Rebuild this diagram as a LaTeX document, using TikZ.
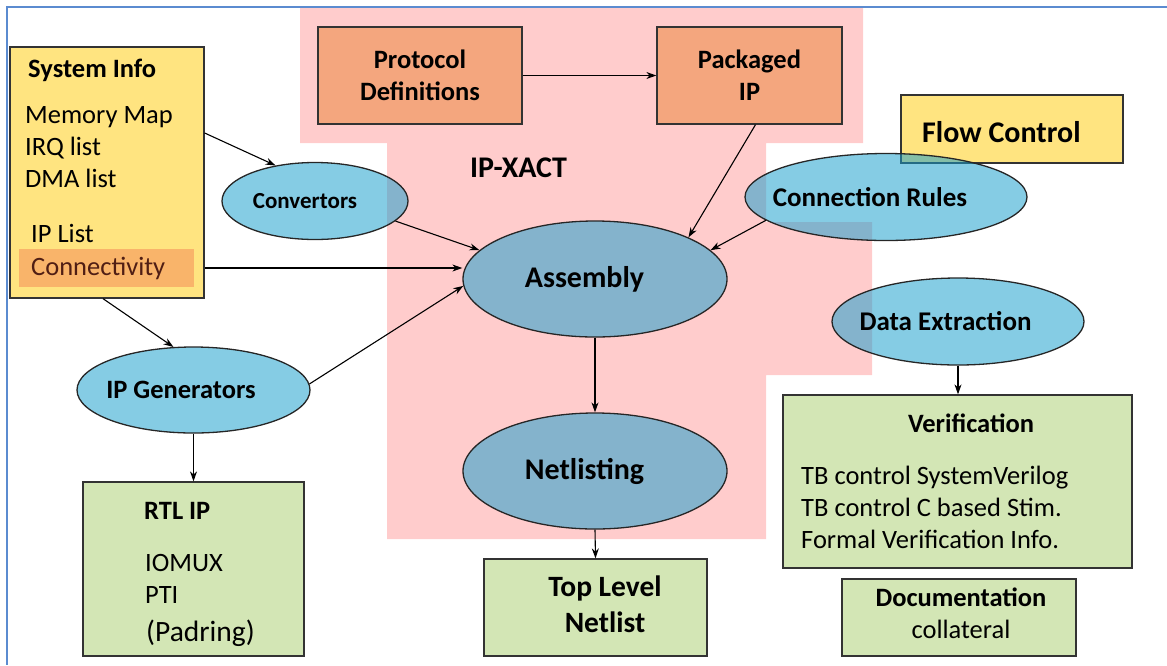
\documentclass[tikz,border=0pt]{standalone}
\usepackage{fontspec}
\setmainfont{Carlito}
\usetikzlibrary{arrows.meta,shapes.geometric,calc}
\definecolor{pinkbg}{RGB}{255,204,204}
\definecolor{ybox}{RGB}{255,228,128}
\definecolor{salmon}{RGB}{244,166,126}
\definecolor{gbox}{RGB}{211,230,181}
\definecolor{hilite}{RGB}{249,180,106}
\definecolor{ellblue}{RGB}{24,158,204}
\definecolor{frameblue}{RGB}{91,139,208}
\definecolor{conntext}{RGB}{80,30,20}
\newcommand{\ovtext}[2]{\makebox[0pt]{#2\hspace{#1}}}
\begin{document}
\begin{tikzpicture}[x=1pt,y=-1pt,
  box/.style={draw=black!80,line width=1.3pt,rectangle,inner sep=0pt},
  oval/.style={ellipse,draw=black!85,line width=1.3pt,fill=ellblue,fill opacity=0.53,text opacity=1,inner sep=0pt},
  arr/.style={-{Stealth[length=10pt,width=7pt]},line width=1.1pt},
  tn/.style={inner sep=0pt,font=\fontsize{26.5}{32}\selectfont},
  tb/.style={inner sep=0pt,font=\fontsize{26.5}{32}\selectfont\bfseries},
  tbig/.style={inner sep=0pt,font=\fontsize{30}{36}\selectfont\bfseries}
]
\useasboundingbox (0,0) rectangle (1167,665);
% frame
\draw[frameblue,line width=1.8pt] (1167,7) -- (7,7) -- (7,665);
% IP-XACT region
\fill[pinkbg] (300,8) -- (863,8) -- (863,143) -- (766,143) -- (766,222) -- (872,222)
  -- (872,375) -- (766,375) -- (766,539) -- (387,539) -- (387,143) -- (300,143) -- cycle;
\node[tbig,anchor=base west] (xact) at (470,177) {IP-XACT};

% System info
\node[box,fill=ybox,minimum width=194,minimum height=251] (sys) at (107,172.5) {};
\node[fill=hilite,inner sep=0pt,minimum width=175,minimum height=38] (hl) at (106.5,268) {};
\node[tb,anchor=base west] (sysT) at (28,77) {System Info};
\node[tn,anchor=base west] (mm) at (25,123) {Memory Map};
\node[tn,anchor=base west] (irq) at (25,155) {IRQ list};
\node[tn,anchor=base west] (dma) at (25,187) {DMA list};
\node[tn,anchor=base west] (ipl) at (31,242) {IP List};
\node[tn,anchor=base west,text=conntext] (cty) at (31,275) {Connectivity};

% top boxes
\node[box,fill=salmon,minimum width=204,minimum height=97,align=center,tb] (prot) at (420,75.5) {Protocol\\Definitions};
\node[box,fill=salmon,minimum width=185,minimum height=97,align=center,tb] (pack) at (749.5,75.5) {Packaged\\IP};

% flow control
\node[box,fill=ybox,minimum width=222,minimum height=68] (flow) at (1012,129) {};
\node[tbig,anchor=base west] (flowT) at (922,142) {Flow Control};

% green boxes
\node[box,fill=gbox,minimum width=349,minimum height=173] (ver) at (957.5,481.5) {};
\node[tb,anchor=base] (verT) at (971,432) {Verification};
\node[tn,anchor=base west] (v1) at (801,484) {TB control SystemVerilog};
\node[tn,anchor=base west] (v2) at (801,516) {TB control C based Stim.};
\node[tn,anchor=base west] (v3) at (801,548) {Formal Verification Info.};

\node[box,fill=gbox,minimum width=234,minimum height=77] (doc) at (959,617.5) {};
\node[tb,anchor=base] (docT) at (961,606) {Documentation};
\node[tn,anchor=base] (docC) at (961,638) {collateral};

\node[box,fill=gbox,minimum width=223,minimum height=97] (top) at (595.5,607.5) {};
\node[inner sep=0pt,font=\fontsize{29.5}{36}\selectfont\bfseries,anchor=base] (topA) at (605,596) {Top Level};
\node[inner sep=0pt,font=\fontsize{29.5}{36}\selectfont\bfseries,anchor=base] (topB) at (605,632) {Netlist};

\node[box,fill=gbox,minimum width=221,minimum height=174] (rtl) at (193.5,569) {};
\node[tb,anchor=base west] (rtlT) at (144,519) {RTL IP};
\node[tn,anchor=base west] (iomux) at (145,571) {IOMUX};
\node[tn,anchor=base west] (pti) at (145,603) {PTI};
\node[inner sep=0pt,font=\fontsize{29.5}{36}\selectfont,anchor=base west] (padr) at (146,641) {(Padring)};

% ellipses
\node[oval,minimum width=186,minimum height=77,font=\fontsize{23}{28}\selectfont\bfseries] (conv) at (315,201) {\ovtext{20pt}{Convertors}};
\node[oval,minimum width=282,minimum height=87,font=\fontsize{27}{32}\selectfont\bfseries] (conn) at (886,197) {\ovtext{32pt}{Connection Rules}};
\node[oval,minimum width=252,minimum height=87,font=\fontsize{27}{32}\selectfont\bfseries] (dat) at (958,321.5) {\ovtext{25pt}{Data Extraction}};
\node[oval,minimum width=233,minimum height=86,font=\fontsize{26.5}{32}\selectfont\bfseries] (gen) at (193.5,390) {\ovtext{25pt}{IP Generators}};
\node[oval,minimum width=264,minimum height=116,font=\fontsize{30}{36}\selectfont\bfseries] (asm) at (595,279) {\ovtext{21pt}{Assembly}};
\node[oval,minimum width=264,minimum height=116,font=\fontsize{30}{36}\selectfont\bfseries] (net) at (595,471) {\ovtext{21pt}{Netlisting}};

% connectors
\draw[arr] (prot) -- (pack);
\draw[arr] ([xshift=6pt]pack.south) -- (asm.24);
\draw[arr] (conn.191.7) -- (asm.14);
\draw[arr] (conv.-14.8) -- (asm.166.7);
\draw[arr] (sys.east |- hl.center) -- (asm.west |- hl.center);
\draw[arr] ([yshift=39.5pt]sys.east) -- (conv.138.4);
\draw[arr] ([xshift=-4pt]sys.south) -- (gen.115);
\draw[arr] (gen.3.4) -- (asm.183.5);
\draw[arr] (asm.south) -- (net.north);
\draw[arr] (net.south) -- (top.north);
\draw[arr] (gen.south) -- (rtl.north);
\draw[arr] (dat.south) -- (dat.south |- ver.north);
\end{tikzpicture}
\end{document}
